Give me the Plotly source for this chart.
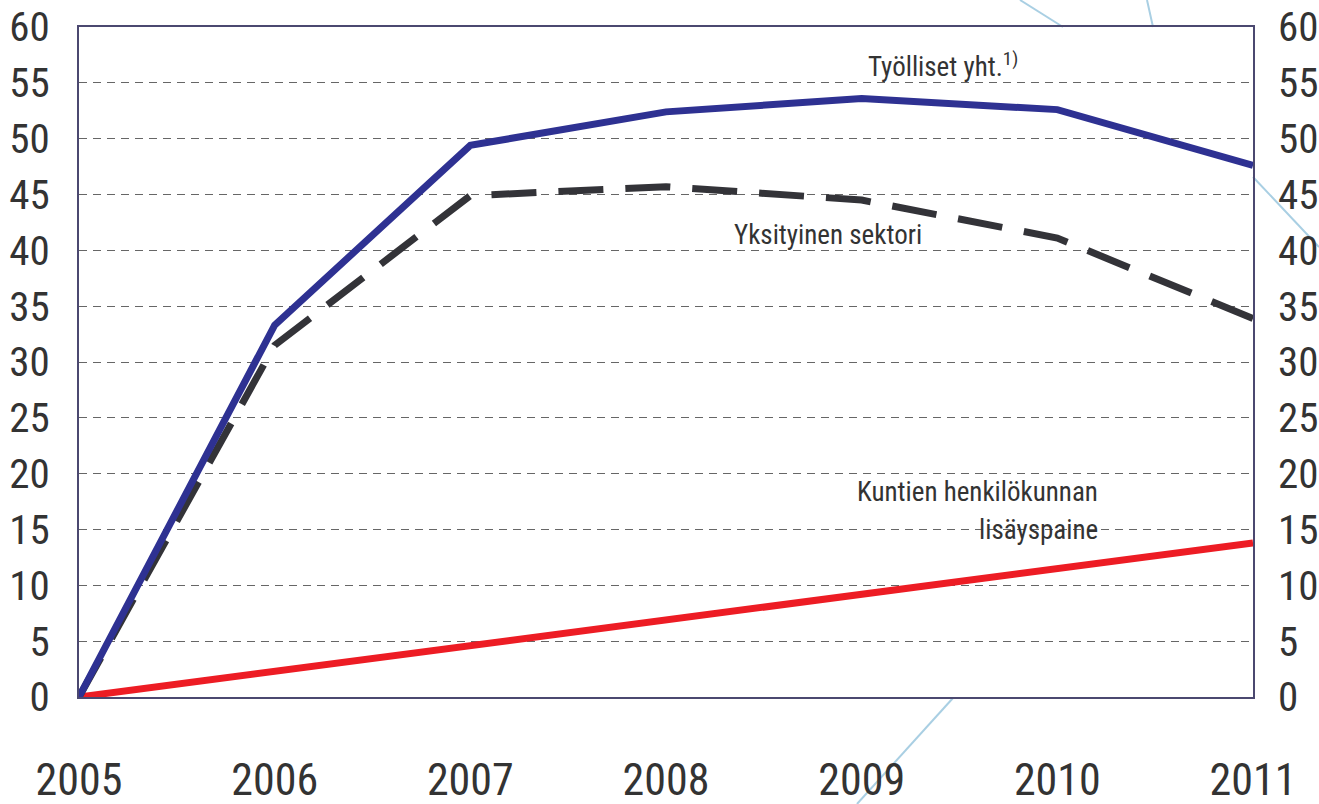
import plotly.graph_objects as go

YEARS = [2005, 2006, 2007, 2008, 2009, 2010, 2011]
TOTAL = [0, 33.3, 49.4, 52.4, 53.6, 52.6, 47.6]
PRIVATE = [0, 31.5, 44.9, 45.7, 44.5, 41.1, 33.9]
MUNICIPAL = [0, 2.3, 4.6, 6.9, 9.2, 11.5, 13.8]

Y_TICKS = list(range(0, 61, 5))

FONT = "Liberation Sans Narrow, Arial Narrow, Roboto Condensed, Liberation Sans, sans-serif"
TXT = "#333333"
FRAME = "#4b4870"
DECO = "#a9cfe3"

fig = go.Figure()
fig.add_trace(go.Scatter(x=YEARS, y=MUNICIPAL, mode="lines",
                         line=dict(color="#ed1c24", width=7), name="Kuntien henkilökunnan lisäyspaine"))
fig.add_trace(go.Scatter(x=YEARS, y=PRIVATE, mode="lines",
                         line=dict(color="#333338", width=7, dash="45px,22px"), name="Yksityinen sektori"))
fig.add_trace(go.Scatter(x=YEARS, y=TOTAL, mode="lines",
                         line=dict(color="#2e3192", width=7), name="Työlliset yht."))
# invisible trace so the right-hand axis is drawn
fig.add_trace(go.Scatter(x=[YEARS[0]], y=[0], yaxis="y2", mode="markers",
                         marker=dict(opacity=0), showlegend=False, hoverinfo="skip"))

# decorative light-blue strokes outside the frame (paper coords)
deco = [
    (1020, 0, 1063, 27), (1147, 0, 1153, 27),
    (1253, 177, 1319, 247), (953, 698, 857, 804),
]
W, H, L, R, T, B = 1319, 804, 79, 66, 27, 107
pw, ph = W - L - R, H - T - B
for x0, y0, x1, y1 in deco:
    fig.add_shape(type="line", xref="paper", yref="paper", layer="below",
                  x0=(x0 - L) / pw, x1=(x1 - L) / pw,
                  y0=(H - B - y0) / ph, y1=(H - B - y1) / ph,
                  line=dict(color=DECO, width=2))

ann = dict(showarrow=False, font=dict(family=FONT, size=27, color=TXT))
fig.add_annotation(x=2009.02, y=56.6, xanchor="left", text="Työlliset yht.<sup>1)</sup>", **ann)
fig.add_annotation(x=2008.83, y=41.4, text="Yksityinen sektori", **ann)
fig.add_annotation(x=2010.22, y=18.4, xanchor="right", text="Kuntien henkilökunnan", **ann)
fig.add_annotation(x=2010.22, y=15.0, xanchor="right", text="lisäyspaine", **ann)

fig.update_layout(
    width=W, height=H,
    margin=dict(l=L, r=R, t=T, b=B, autoexpand=False),
    paper_bgcolor="white", plot_bgcolor="white",
    showlegend=False,
    font=dict(family=FONT, color=TXT),
    xaxis=dict(range=[2005, 2011], tickvals=YEARS, ticks="", showgrid=False, automargin=False,
               zeroline=False, showline=True, linecolor=FRAME, linewidth=2, mirror=True,
               tickfont=dict(size=44), ticklabelstandoff=43),
    yaxis=dict(range=[0, 60], tickvals=Y_TICKS, ticks="", showgrid=True, automargin=False,
               gridcolor="#666666", griddash="8px,6px", gridwidth=1,
               zeroline=False, showline=True, linecolor=FRAME, linewidth=2, mirror=True,
               tickfont=dict(size=41), ticklabelstandoff=19),
    yaxis2=dict(range=[0, 60], tickvals=Y_TICKS, overlaying="y", side="right", automargin=False,
                ticks="", showgrid=False, zeroline=False, showline=False,
                tickfont=dict(size=41), ticklabelstandoff=24),
)

# drop the browser's default 8px body margin so the figure fills the window exactly
fig.write_html("out.html", config={"displayModeBar": False},
               post_script="document.body.style.margin='0';")
